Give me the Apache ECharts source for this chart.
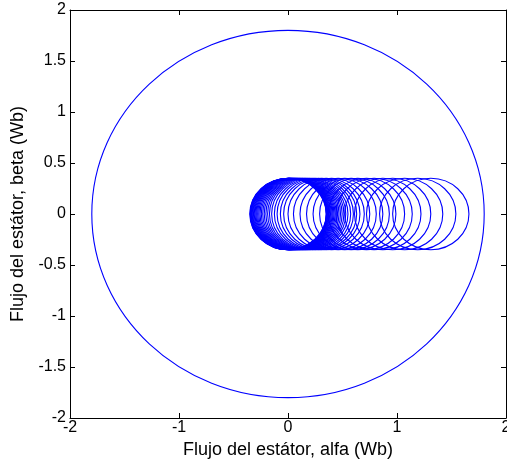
<!DOCTYPE html>
<html>
<head>
<meta charset="utf-8">
<script src="https://cdn.jsdelivr.net/npm/echarts@6/dist/echarts.min.js"></script>
<style>
  html, body { margin: 0; padding: 0; background: #fff; }
  #chart { width: 507px; height: 463px; }
</style>
</head>
<body>
<div id="chart"></div>
<script>
// Steady-state stator flux locus: centre (alfa, beta) and radius, in Wb
const outerCircle = [0, 0, 1.8];

// Start-up flux loops: centre of each loop along the alfa axis (Wb)
const loopCentersAlfa = [
  0, 0.002, 0.005, 0.008, 0.012, 0.016, 0.021, 0.027, 0.033, 0.04,
  0.047, 0.055, 0.063, 0.072, 0.082, 0.093, 0.105, 0.118, 0.132, 0.147,
  0.163, 0.18, 0.2, 0.225, 0.25, 0.28, 0.31, 0.35, 0.40, 0.46,
  0.52, 0.58, 0.64, 0.72, 0.79, 0.87, 0.96, 1.07, 1.19, 1.31
];
// Loop radius (Wb)
const loopRadius = 0.35;

// Axis ticks
const xTicks = [-2, -1, 0, 1, 2];
const yTicks = [-2, -1.5, -1, -0.5, 0, 0.5, 1, 1.5, 2];

const circleData = [outerCircle].concat(
  loopCentersAlfa.map(function (c) { return [c, 0, loopRadius]; })
);

const FONT = '"Liberation Sans", Arial, sans-serif';
const LINE = '#0000ff';

function renderCircle(params, api) {
  const c = api.coord([api.value(0), api.value(1)]);
  const s = api.size([api.value(2), api.value(2)]);
  return {
    type: 'ellipse',
    shape: { cx: c[0], cy: c[1], rx: s[0], ry: s[1] },
    style: { fill: null, stroke: LINE, lineWidth: 1.1 },
    silent: true
  };
}

const axisBase = {
  axisLine: { show: true, onZero: false, lineStyle: { color: '#000', width: 1 } },
  axisTick: { show: true, inside: true, length: 5, lineStyle: { color: '#000' } },
  splitLine: { show: false }
};

const chart = echarts.init(document.getElementById('chart'), null, { renderer: 'canvas' });
chart.setOption({
  animation: false,
  backgroundColor: '#fff',
  grid: { left: 70, right: 1, top: 10, bottom: 45, containLabel: false, outerBoundsMode: 'none' },
  xAxis: [
    Object.assign({}, axisBase, {
      type: 'value', position: 'bottom',
      min: xTicks[0], max: xTicks[xTicks.length - 1], interval: 1,
      name: 'Flujo del estátor, alfa (Wb)', nameLocation: 'middle', nameGap: 22,
      nameTextStyle: { color: '#000', fontSize: 18, fontFamily: FONT },
      axisLabel: { color: '#000', fontSize: 16, fontFamily: FONT, margin: 2,
        hideOverlap: false, showMinLabel: true, showMaxLabel: true,
        formatter: function (v) { return String(v); } }
    }),
    Object.assign({}, axisBase, {
      type: 'value', position: 'top',
      min: xTicks[0], max: xTicks[xTicks.length - 1], interval: 1,
      axisLabel: { show: false }
    })
  ],
  yAxis: [
    Object.assign({}, axisBase, {
      type: 'value', position: 'left',
      min: yTicks[0], max: yTicks[yTicks.length - 1], interval: 0.5,
      name: 'Flujo del estátor, beta (Wb)', nameLocation: 'middle', nameGap: 41,
      nameTextStyle: { color: '#000', fontSize: 18, fontFamily: FONT },
      axisLabel: { color: '#000', fontSize: 16, fontFamily: FONT, margin: 4,
        hideOverlap: false, showMinLabel: true, showMaxLabel: true,
        formatter: function (v) { return String(v); } }
    }),
    Object.assign({}, axisBase, {
      type: 'value', position: 'right',
      min: yTicks[0], max: yTicks[yTicks.length - 1], interval: 0.5,
      axisLabel: { show: false }
    })
  ],
  series: [{
    type: 'custom',
    xAxisIndex: 0,
    yAxisIndex: 0,
    renderItem: renderCircle,
    data: circleData,
    clip: true
  }]
});
</script>
</body>
</html>
